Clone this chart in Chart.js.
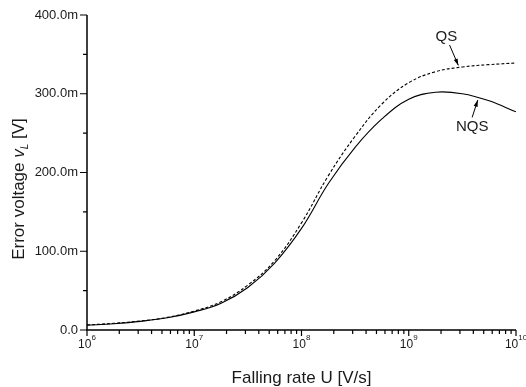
<!DOCTYPE html>
<html>
<head>
<meta charset="utf-8">
<script src="https://cdn.jsdelivr.net/npm/chart.js@4"></script>
<style>
  html, body { margin: 0; padding: 0; background: #fff; }
  #wrap { width: 526px; height: 387px; }
</style>
</head>
<body>
<div id="wrap"><canvas id="errChart" width="526" height="387"></canvas></div>
<script>
// falling rate U [V/s], quarter-decade steps
const rates = [1e6, 1.78e6, 3.16e6, 5.62e6, 1e7, 1.78e7, 3.16e7, 5.62e7, 1e8,
               1.78e8, 3.16e8, 5.62e8, 1e9, 1.78e9, 3.16e9, 5.62e9, 1e10];
// error voltage in mV
const qsValues  = [6.5, 8.5, 11.5, 16, 24, 36, 57, 88, 136, 196, 246, 287, 314, 328, 334, 337, 339];
const nqsValues = [6, 8, 11, 15.5, 23, 34, 54, 85, 129, 186, 232, 268, 293, 302, 300, 291, 277];

const yTickValues = [0, 100, 200, 300, 400];
const yTickLabels = ['0.0', '100.0m', '200.0m', '300.0m', '400.0m'];
const yMinorValues = [50, 150, 250, 350];
const xTickExponents = [6, 7, 8, 9, 10];

const FONT = '"Liberation Sans", Arial, sans-serif';

function toPoints(vals) {
    return rates.map((r, i) => ({ x: r, y: vals[i] }));
}

const axesPlugin = {
    id: 'originAxes',
    afterDraw(chart) {
        const ctx = chart.ctx;
        const xs = chart.scales.x;
        const ys = chart.scales.y;
        const area = chart.chartArea;

        ctx.save();
        ctx.strokeStyle = '#000';
        ctx.fillStyle = '#1a1a1a';

        // axis lines
        ctx.lineWidth = 1.5;
        ctx.beginPath();
        ctx.moveTo(area.left, area.top);
        ctx.lineTo(area.left, area.bottom);
        ctx.lineTo(area.right, area.bottom);
        ctx.stroke();

        // y ticks
        ctx.lineWidth = 1.2;
        ctx.beginPath();
        yTickValues.forEach(v => {
            const py = ys.getPixelForValue(v);
            ctx.moveTo(area.left - 7, py);
            ctx.lineTo(area.left, py);
        });
        yMinorValues.forEach(v => {
            const py = ys.getPixelForValue(v);
            ctx.moveTo(area.left - 4, py);
            ctx.lineTo(area.left, py);
        });

        // x ticks (log decades + minors)
        for (let e = 6; e <= 10; e++) {
            const px = xs.getPixelForValue(Math.pow(10, e));
            ctx.moveTo(px, area.bottom);
            ctx.lineTo(px, area.bottom + 6);
            if (e < 10) {
                for (let m = 2; m <= 9; m++) {
                    const mx = xs.getPixelForValue(m * Math.pow(10, e));
                    ctx.moveTo(mx, area.bottom);
                    ctx.lineTo(mx, area.bottom + 4);
                }
            }
        }
        ctx.stroke();

        // y tick labels
        ctx.font = '13px ' + FONT;
        ctx.textAlign = 'right';
        ctx.textBaseline = 'middle';
        yTickValues.forEach((v, i) => {
            ctx.fillText(yTickLabels[i], area.left - 9, ys.getPixelForValue(v));
        });

        // x tick labels 10^n
        ctx.textBaseline = 'alphabetic';
        xTickExponents.forEach(e => {
            const px = xs.getPixelForValue(Math.pow(10, e));
            ctx.font = '12px ' + FONT;
            const baseW = ctx.measureText('10').width;
            ctx.font = '8px ' + FONT;
            const supW = ctx.measureText(String(e)).width;
            const start = px - (baseW + supW) / 2;
            ctx.textAlign = 'left';
            ctx.font = '12px ' + FONT;
            ctx.fillText('10', start, area.bottom + 18);
            ctx.font = '8px ' + FONT;
            ctx.fillText(String(e), start + baseW, area.bottom + 10);
        });

        // x title
        ctx.font = '17px ' + FONT;
        ctx.textAlign = 'center';
        ctx.fillText('Falling rate U [V/s]', (area.left + area.right) / 2, 383);

        // y title with italic v_L
        ctx.translate(24, 189);
        ctx.rotate(-Math.PI / 2);
        const parts = [
            { t: 'Error voltage ', f: '17px ' + FONT, dy: 0 },
            { t: 'v', f: 'italic 17px ' + FONT, dy: 0 },
            { t: 'L', f: 'italic 10px ' + FONT, dy: 4 },
            { t: ' [V]', f: '17px ' + FONT, dy: 0 }
        ];
        let total = 0;
        parts.forEach(p => { ctx.font = p.f; p.w = ctx.measureText(p.t).width; total += p.w; });
        let cx = -total / 2;
        ctx.textAlign = 'left';
        parts.forEach(p => {
            ctx.font = p.f;
            ctx.fillText(p.t, cx, p.dy);
            cx += p.w;
        });
        ctx.setTransform(1, 0, 0, 1, 0, 0);

        // curve labels with arrows
        function arrow(x0, y0, x1, y1) {
            const px0 = xs.getPixelForValue(x0), py0 = ys.getPixelForValue(y0);
            const px1 = xs.getPixelForValue(x1), py1 = ys.getPixelForValue(y1);
            const ang = Math.atan2(py1 - py0, px1 - px0);
            ctx.lineWidth = 1;
            ctx.beginPath();
            ctx.moveTo(px0, py0);
            ctx.lineTo(px1, py1);
            ctx.stroke();
            ctx.beginPath();
            ctx.moveTo(px1, py1);
            ctx.lineTo(px1 - 7 * Math.cos(ang - 0.3), py1 - 7 * Math.sin(ang - 0.3));
            ctx.lineTo(px1 - 7 * Math.cos(ang + 0.3), py1 - 7 * Math.sin(ang + 0.3));
            ctx.closePath();
            ctx.fillStyle = '#000';
            ctx.fill();
        }
        ctx.fillStyle = '#1a1a1a';
        ctx.font = '15px ' + FONT;
        ctx.textAlign = 'center';
        ctx.textBaseline = 'middle';
        ctx.fillText('QS', xs.getPixelForValue(2.24e9), ys.getPixelForValue(372));
        ctx.fillText('NQS', xs.getPixelForValue(3.9e9), ys.getPixelForValue(258));
        arrow(2.4e9, 362, 2.9e9, 336);
        arrow(3.9e9, 270, 4.4e9, 292);
        ctx.restore();
    }
};

new Chart(document.getElementById('errChart'), {
    type: 'line',
    data: {
        datasets: [
            {
                label: 'QS',
                data: toPoints(qsValues),
                borderColor: '#000',
                borderWidth: 1.1,
                borderDash: [3, 2],
                pointRadius: 0,
                tension: 0.4,
                fill: false
            },
            {
                label: 'NQS',
                data: toPoints(nqsValues),
                borderColor: '#000',
                borderWidth: 1.1,
                pointRadius: 0,
                tension: 0.4,
                fill: false
            }
        ]
    },
    options: {
        responsive: false,
        animation: false,
        layout: { padding: { left: 87, right: 10, top: 15, bottom: 57 } },
        plugins: { legend: { display: false }, tooltip: { enabled: false } },
        scales: {
            x: { type: 'logarithmic', min: 1e6, max: 1e10, display: false },
            y: { type: 'linear', min: 0, max: 400, display: false }
        }
    },
    plugins: [axesPlugin]
});
</script>
</body>
</html>
